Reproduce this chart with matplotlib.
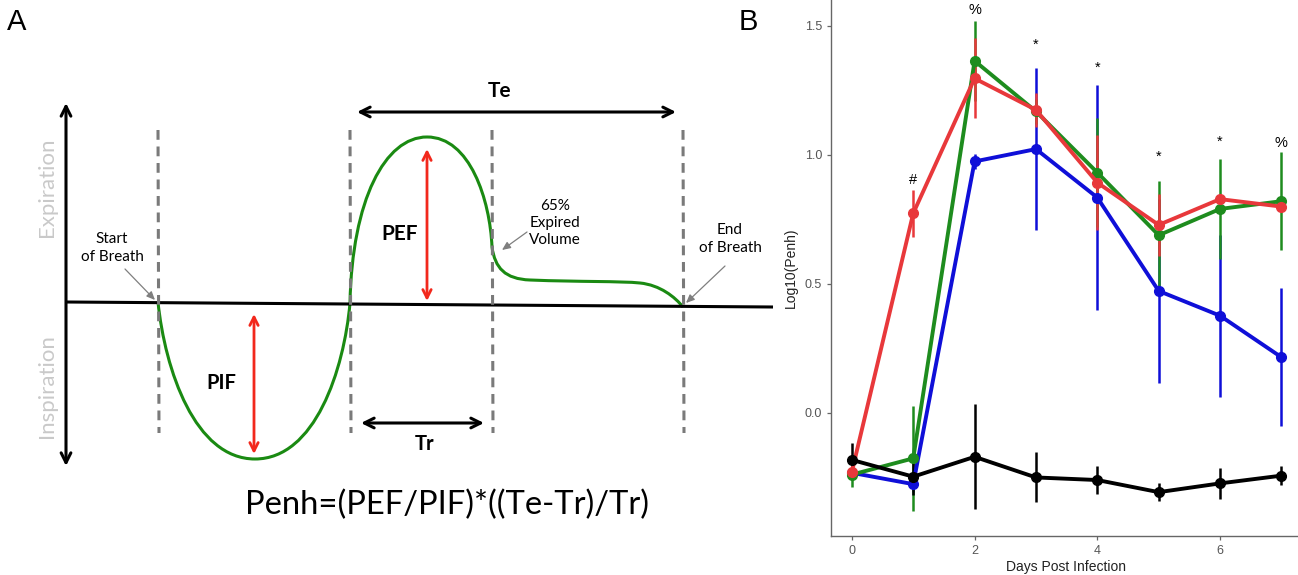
import matplotlib
matplotlib.use("Agg")
import matplotlib.pyplot as plt
from matplotlib.path import Path
from matplotlib.patches import PathPatch

# ---------------- Panel B data ----------------
days = [0, 1, 2, 3, 4, 5, 6, 7]
red_mean = [-0.229, 0.773, 1.296, 1.174, 0.892, 0.728, 0.828, 0.799]
red_err = [0.03, 0.09, 0.155, 0.067, 0.184, 0.12, 0.02, 0.02]
green_mean = [-0.240, -0.177, 1.364, 1.168, 0.931, 0.688, 0.790, 0.820]
green_err = [0.047, 0.203, 0.155, 0.05, 0.211, 0.211, 0.195, 0.19]
blue_mean = [-0.233, -0.277, 0.974, 1.022, 0.834, 0.472, 0.376, 0.215]
blue_err = [0.02, 0.03, 0.03, 0.313, 0.435, 0.358, 0.314, 0.268]
black_mean = [-0.183, -0.248, -0.171, -0.251, -0.261, -0.308, -0.274, -0.244]
black_err = [0.064, 0.07, 0.204, 0.097, 0.053, 0.034, 0.06, 0.038]

annot_days = [1, 2, 3, 4, 5, 6, 7]
annot_text = ['#', '%', '*', '*', '*', '*', '%']
annot_y = [0.903, 1.56, 1.446, 1.356, 1.012, 1.07, 1.045]

x_ticks = [0, 2, 4, 6]
y_ticks = [0.0, 0.5, 1.0, 1.5]
y_ticklabels = ['0.0', '0.5', '1.0', '1.5']

# ---------------- Panel A schematic (pixel coordinates) ----------------
baseline_x = [66, 773]
baseline_y = [302, 307]
dash_x = [158, 350, 492, 683]
dash_top, dash_bottom = 130, 433
# Bezier flow curve: start point then (ctrl1, ctrl2, end) triples
flow_start = (158, 302)
flow_segments = [
    ((165, 370), (195, 459), (255, 459)),
    ((315, 459), (344, 370), (350, 303)),
    ((352, 200), (385, 137), (427, 137)),
    ((470, 137), (490, 200), (492, 247)),
    ((495, 268), (505, 279), (530, 280)),
    ((580, 282), (620, 281), (640, 283)),
    ((660, 285), (675, 297), (683, 307)),
]
formula = "Penh=(PEF/PIF)*((Te-Tr)/Tr)"

RED = '#e8383b'
GREEN = '#1e8c1e'
BLUE = '#0f0fd8'

fig = plt.figure(figsize=(12.98, 5.75), dpi=100)

# ---------- Panel A ----------
axA = fig.add_axes([0, 0, 780 / 1298, 1])
axA.set_xlim(0, 780)
axA.set_ylim(575, 0)
axA.axis('off')

diag_font = 'Lato'
# vertical double arrow
axA.annotate('', xy=(66, 103), xytext=(66, 466),
             arrowprops=dict(arrowstyle='<->,head_length=0.7,head_width=0.35',
                             lw=2.2, color='black', shrinkA=0, shrinkB=0))
axA.text(47, 187, 'Expiration', rotation=90, ha='center', va='center',
         fontsize=16, color='#c9c9c9', family=diag_font)
axA.text(47, 386, 'Inspiration', rotation=90, ha='center', va='center',
         fontsize=16, color='#c9c9c9', family=diag_font)
# baseline
axA.plot(baseline_x, baseline_y, color='black', lw=2.2, solid_capstyle='butt')
# dashed lines
for dx in dash_x:
    axA.plot([dx, dx + 1], [dash_top, dash_bottom], color='#7a7a7a', lw=2.2,
             linestyle=(0, (3.2, 2.2)))
# flow curve
verts = [flow_start]
codes = [Path.MOVETO]
for seg in flow_segments:
    verts.extend(seg)
    codes.extend([Path.CURVE4] * 3)
axA.add_patch(PathPatch(Path(verts, codes), facecolor='none', edgecolor='#1a8a12', lw=2.2))

# red double arrows
red_arrow = dict(arrowstyle='<->,head_length=0.6,head_width=0.3', lw=2.0,
                 color='#f2281c', shrinkA=0, shrinkB=0)
axA.annotate('', xy=(254, 314), xytext=(254, 454), arrowprops=red_arrow)
axA.annotate('', xy=(427, 149), xytext=(427, 301), arrowprops=red_arrow)
# black time arrows
blk_arrow = dict(arrowstyle='<->,head_length=0.7,head_width=0.35', lw=2.2,
                 color='black', shrinkA=0, shrinkB=0)
axA.annotate('', xy=(357, 112), xytext=(676, 112), arrowprops=blk_arrow)
axA.annotate('', xy=(361, 423), xytext=(484, 423), arrowprops=blk_arrow)

bold = dict(ha='center', va='center', fontweight='bold', family=diag_font)
axA.text(221, 383, 'PIF', fontsize=14.5, **bold)
axA.text(400, 234, 'PEF', fontsize=15, **bold)
axA.text(500, 91, 'Te', fontsize=15, **bold)
axA.text(425, 444, 'Tr', fontsize=14.5, **bold)

small = dict(ha='center', va='center', fontsize=11, family=diag_font, linespacing=1.3)
axA.text(112, 248, 'Start\nof Breath', **small)
axA.text(555, 223, '65%\nExpired\nVolume', **small)
axA.text(730, 239, 'End\nof Breath', **small)
gray_arrow = dict(arrowstyle='-|>,head_length=0.5,head_width=0.22', lw=0.9,
                  color='#7f7f7f', shrinkA=0, shrinkB=0)
axA.annotate('', xy=(155, 300), xytext=(125, 269), arrowprops=gray_arrow)
axA.annotate('', xy=(502, 250), xytext=(527, 232), arrowprops=gray_arrow)
axA.annotate('', xy=(686, 303), xytext=(725, 266), arrowprops=gray_arrow)

axA.text(447, 505, formula, ha='center', va='center', fontsize=23.6, family=diag_font)

fig.text(17 / 1298, 1 - 22 / 575, 'A', ha='center', va='center', fontsize=21,
         family='Liberation Sans')
fig.text(748 / 1298, 1 - 22 / 575, 'B', ha='center', va='center', fontsize=21,
         family='Liberation Sans')

# ---------- Panel B ----------
ax = fig.add_axes([831 / 1298, 39 / 575, 467 / 1298, 536 / 575])
series = [
    (blue_mean, blue_err, BLUE),
    (green_mean, green_err, GREEN),
    (red_mean, red_err, RED),
    (black_mean, black_err, 'black'),
]
for mean, err, col in series:
    ax.errorbar(days, mean, yerr=err, color=col, lw=2.8, elinewidth=1.8,
                capsize=0, marker='o', markersize=7)

for d, t, yv in zip(annot_days, annot_text, annot_y):
    off = -0.02 if t == '*' else 0.0
    ax.text(d, yv + off, t, ha='center', va='center', fontsize=10.5,
            family='Liberation Sans')

ax.set_xlim(-0.34, 7.27)
ax.set_ylim(-0.478, 1.60)
ax.set_xticks(x_ticks)
ax.set_yticks(y_ticks)
ax.set_yticklabels(y_ticklabels)
for s in ['top', 'right']:
    ax.spines[s].set_visible(False)
for s in ['left', 'bottom']:
    ax.spines[s].set_color('#666666')
    ax.spines[s].set_linewidth(1.0)
ax.tick_params(colors='#666666', labelcolor='#555555', labelsize=9, length=3, width=0.9)
for lab in ax.get_xticklabels() + ax.get_yticklabels():
    lab.set_family('Liberation Sans')
ax.set_xlabel('Days Post Infection', fontsize=10, family='Liberation Sans', color='#222222')
ax.set_ylabel('Log10(Penh)', fontsize=10, family='Liberation Sans', color='#222222')
ax.xaxis.set_label_coords((1066 - 831) / 467, -0.045)
ax.yaxis.set_label_coords(-0.072, 0.5)
ax.patch.set_alpha(0)

fig.savefig('out.png', dpi=100)
